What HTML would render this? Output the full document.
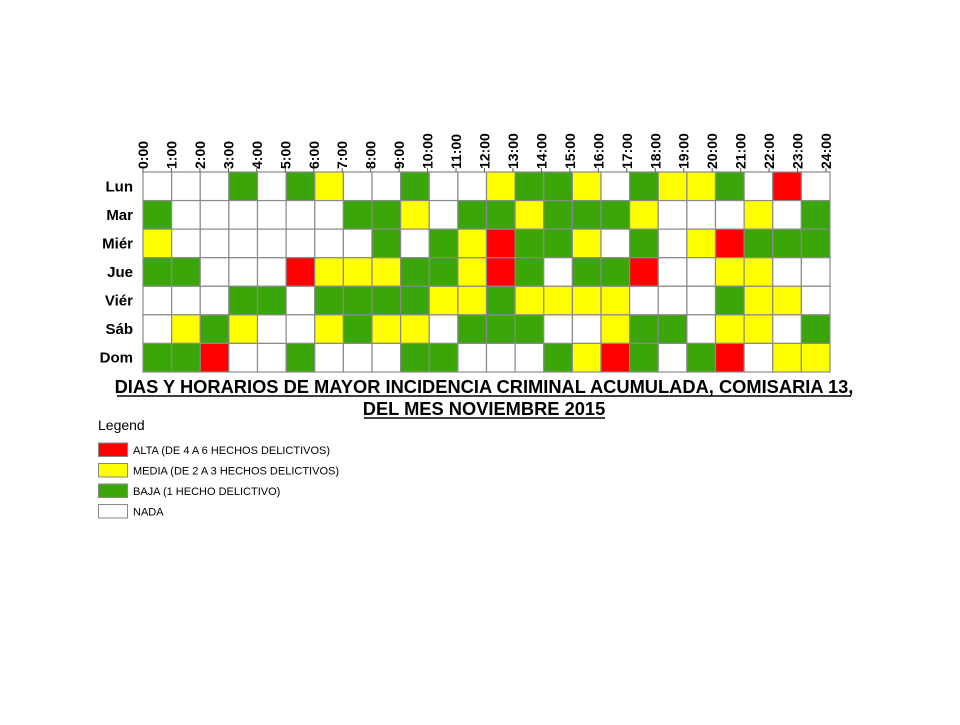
<!DOCTYPE html>
<html><head><meta charset="utf-8"><style>
body{margin:0;background:#fff;width:960px;height:720px;overflow:hidden;font-family:"Liberation Sans",Arial,sans-serif}
</style></head><body>
<svg id="chart" width="960" height="720" xmlns="http://www.w3.org/2000/svg" font-family="Liberation Sans, Arial, sans-serif">
<g id="cells"></g><g id="xlabels"></g><g id="ylabels"></g>
<g font-weight="bold" font-size="18.3" text-anchor="middle">
<text x="484" y="393">DIAS Y HORARIOS DE MAYOR INCIDENCIA CRIMINAL ACUMULADA, COMISARIA 13,</text>
<text x="484" y="415">DEL MES NOVIEMBRE 2015</text>
</g>
<line x1="117" y1="396" x2="851" y2="396" stroke="#000" stroke-width="1.5"/>
<line x1="364" y1="418" x2="605" y2="418" stroke="#000" stroke-width="1.5"/>
<text x="98" y="430" font-size="14">Legend</text>
<g id="legend" font-size="11"></g>
</svg>
<script>
const days = ["Lun","Mar","Miér","Jue","Viér","Sáb","Dom"];
const hours = ["0:00","1:00","2:00","3:00","4:00","5:00","6:00","7:00","8:00","9:00","10:00","11:00","12:00","13:00","14:00","15:00","16:00","17:00","18:00","19:00","20:00","21:00","22:00","23:00","24:00"];
const levelLabels = ["ALTA (DE 4 A 6 HECHOS DELICTIVOS)","MEDIA (DE 2 A 3 HECHOS DELICTIVOS)","BAJA (1 HECHO DELICTIVO)","NADA"];
const rowLun  = [0,0,0,1,0,1,2,0,0,1,0,0,2,1,1,2,0,1,2,2,1,0,3,0];
const rowMar  = [1,0,0,0,0,0,0,1,1,2,0,1,1,2,1,1,1,2,0,0,0,2,0,1];
const rowMier = [2,0,0,0,0,0,0,0,1,0,1,2,3,1,1,2,0,1,0,2,3,1,1,1];
const rowJue  = [1,1,0,0,0,3,2,2,2,1,1,2,3,1,0,1,1,3,0,0,2,2,0,0];
const rowVier = [0,0,0,1,1,0,1,1,1,1,2,2,1,2,2,2,2,0,0,0,1,2,2,0];
const rowSab  = [0,2,1,2,0,0,2,1,2,2,0,1,1,1,0,0,2,1,1,0,2,2,0,1];
const rowDom  = [1,1,3,0,0,1,0,0,0,1,1,0,0,0,1,2,3,1,0,1,3,0,2,2];
const rows = [rowLun,rowMar,rowMier,rowJue,rowVier,rowSab,rowDom];

const NS="http://www.w3.org/2000/svg";
const colors=["#ffffff","#3aa60a","#ffff00","#ff0000"];
const gx0=143, gx1=830, gy0=172, gy1=372;
const cw=(gx1-gx0)/24, ch=(gy1-gy0)/days.length;
const xPos=i=>gx0+i*cw, yPos=j=>gy0+j*ch;
const lblX=i=>143+i*(826-143)/(hours.length-1);
function mk(t,a){const e=document.createElementNS(NS,t);for(const k in a)e.setAttribute(k,a[k]);return e;}
const cg=document.getElementById('cells');
rows.forEach((r,j)=>r.forEach((v,i)=>{
  const e=mk('rect',{x:xPos(i),y:yPos(j),width:cw,height:ch,fill:colors[v],stroke:'#8a8a8a','stroke-width':1.2});
  
  
  cg.appendChild(e);
}));
const xg=document.getElementById('xlabels');
hours.forEach((h,i)=>{
  const x=lblX(i);
  const t=mk('text',{x:0,y:0,transform:`translate(${x+5},169) rotate(-90)`,'font-size':14,'font-weight':'bold'});
  t.textContent=h;
  
  
  xg.appendChild(t);
  const l=mk('line',{x1:x,y1:168,x2:x,y2:172,stroke:'#555'});
  xg.appendChild(l);
});
const yg=document.getElementById('ylabels');
days.forEach((d,j)=>{
  const t=mk('text',{x:133,y:yPos(j)+ch/2+5,'font-size':15,'font-weight':'bold','text-anchor':'end'});
  t.textContent=d;
  
  
  yg.appendChild(t);
});
const lg=document.getElementById('legend');
const lc=[3,2,1,0];
levelLabels.forEach((s,k)=>{
  const y=443+k*20.5;
  const r=mk('rect',{x:98.5,y:y,width:29,height:13.5,fill:colors[lc[k]],stroke:'#888'});
  
  
  lg.appendChild(r);
  const t=mk('text',{x:133,y:y+11});
  t.textContent=s;
  
  
  lg.appendChild(t);
});
</script>
</body></html>
